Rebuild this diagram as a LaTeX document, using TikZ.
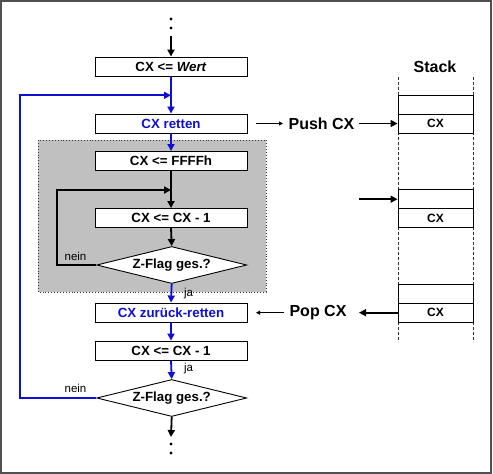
\documentclass[tikz,border=0pt]{standalone}
\usepackage{fontspec}
\setmainfont{Liberation Sans}
\usetikzlibrary{shapes.geometric,arrows.meta}
\definecolor{fblue}{RGB}{15,15,210}
\definecolor{shade}{RGB}{192,192,192}
\definecolor{framec}{RGB}{80,80,80}
\tikzset{
  box/.style={draw=black, line width=0.9pt, fill=white, minimum width=152pt, minimum height=19pt, inner sep=0pt,
    font=\fontsize{13.3}{16}\selectfont\bfseries},
  dec/.style={draw=black, line width=0.9pt, fill=white, shape=diamond, aspect=4.05, minimum width=150pt, minimum height=37pt, inner sep=0pt,
    font=\fontsize{13.3}{16}\selectfont\bfseries},
  cell/.style={draw=black, line width=0.9pt, fill=white, minimum width=75pt, minimum height=19pt, inner sep=0pt,
    font=\fontsize{12}{14}\selectfont\bfseries},
  big/.style={font=\fontsize{16}{19}\selectfont\bfseries, inner sep=0pt},
  lbl/.style={font=\fontsize{11.5}{13}\selectfont, inner sep=0pt},
  flow/.style={line width=1.8pt, -{Triangle[length=7pt,width=7pt]}},
  thick arrow/.style={line width=1.6pt, -{Triangle[length=7pt,width=7pt]}},
  thin arrow/.style={line width=0.9pt, -{Triangle[length=4pt,width=4pt]}},
  dotc/.style={fill=black, circle, inner sep=0pt, minimum size=3.2pt},
}
\begin{document}
\begin{tikzpicture}[x=1pt,y=-1pt]
\useasboundingbox (0,0) rectangle (493,474);
\draw[framec, line width=1.6pt] (1,1) rectangle (491.2,472.8);
% shaded loop region
\draw[fill=shade, draw=black!80, line width=0.9pt, dotted] (38,140) rectangle (266,292);

% flow nodes
\node[box] (wert) at (171,66.5) {CX <= \textit{Wert}};
\node[box, text=fblue] (retten) at (171,123.5) {CX retten};
\node[box] (ffff) at (171,161) {CX <= FFFFh};
\node[box] (dec1) at (171,218) {CX <= CX - 1};
\node[dec] (dia1) at (171.7,265) {Z-Flag ges.?};
\node[box, text=fblue] (zur) at (171,312.5) {CX zurück-retten};
\node[box] (dec2) at (171,350.5) {CX <= CX - 1};
\node[dec] (dia2) at (171.7,398) {Z-Flag ges.?};

% dots
\node[dotc] (d1) at (171,19) {};
\node[dotc] (d2) at (171,28) {};
\coordinate (top) at (171,36);
\node[dotc] (d3) at (171,444) {};
\node[dotc] (d4) at (171,453) {};
\coordinate (bot) at (171,437);

% coordinates for loops
\coordinate (j1) at (171,95.3);
\coordinate (j2) at (171,190);
\coordinate (l1) at (19.7,398);
\coordinate (l1t) at (19.7,95.3);
\coordinate (l2) at (57.3,265);
\coordinate (l2t) at (57.3,190);

% flow connectors
\draw[flow] (top) -- (wert.north);
\draw[flow, fblue] (wert.south) -- (retten.north);
\draw[flow, fblue] (retten.south) -- (ffff.north);
\draw[flow] (ffff.south) -- (dec1.north);
\draw[flow] (dec1.south) -- (dia1.north);
\draw[flow] (dia1.west) -- (l2) -- (l2t) -- (j2);
\draw[flow, fblue] (dia1.south) -- (zur.north);
\draw[flow, fblue] (zur.south) -- (dec2.north);
\draw[flow, fblue] (dec2.south) -- (dia2.north);
\draw[flow, fblue] (dia2.west) -- (l1) -- (l1t) -- (j1);
\draw[flow] (dia2.south) -- (bot);

% labels
\node[lbl] (n1) at (75.5,256) {nein};
\node[lbl] (ja1) at (188.5,293.5) {ja};
\node[lbl] (ja2) at (188.5,369) {ja};
\node[lbl] (n2) at (75.5,388) {nein};

% stack
\node[big] (stack) at (435,66.5) {Stack};
\coordinate (sl1) at (398,77); \coordinate (sl2) at (398,342);
\coordinate (sr1) at (473,77); \coordinate (sr2) at (473,342);
\draw[line width=0.9pt, dash pattern=on 3pt off 2pt, black!80] (sl1) -- (sl2);
\draw[line width=0.9pt, dash pattern=on 3pt off 2pt, black!80] (sr1) -- (sr2);
\node[cell] (s1a) at (435.5,104.7) {};
\node[cell] (s1b) at (435.5,123.5) {CX};
\node[cell] (s2a) at (435.5,199.2) {};
\node[cell] (s2b) at (435.5,218.2) {CX};
\node[cell] (s3a) at (435.5,293.8) {};
\node[cell] (s3b) at (435.5,312.7) {CX};

% push / pop
\node[big] (push) at (321.5,123.5) {Push CX};
\node[big] (pop) at (318,312.7) {Pop CX};
\coordinate (pa) at (256,123.5);
\coordinate (pb) at (283,123.5);
\coordinate (pc) at (359,123.5);
\coordinate (mid) at (359,199.2);
\coordinate (qa) at (256,312.7);
\coordinate (qb) at (283.5,312.7);
\coordinate (qc) at (359,312.7);
\draw[thin arrow] (pa) -- (pb);
\draw[thick arrow] (pc) -- (s1b.west);
\draw[thick arrow] (mid) -- (s2a.west);
\draw[thick arrow] (s3b.west) -- (qc);
\draw[thin arrow] (qb) -- (qa);
\end{tikzpicture}
\end{document}
